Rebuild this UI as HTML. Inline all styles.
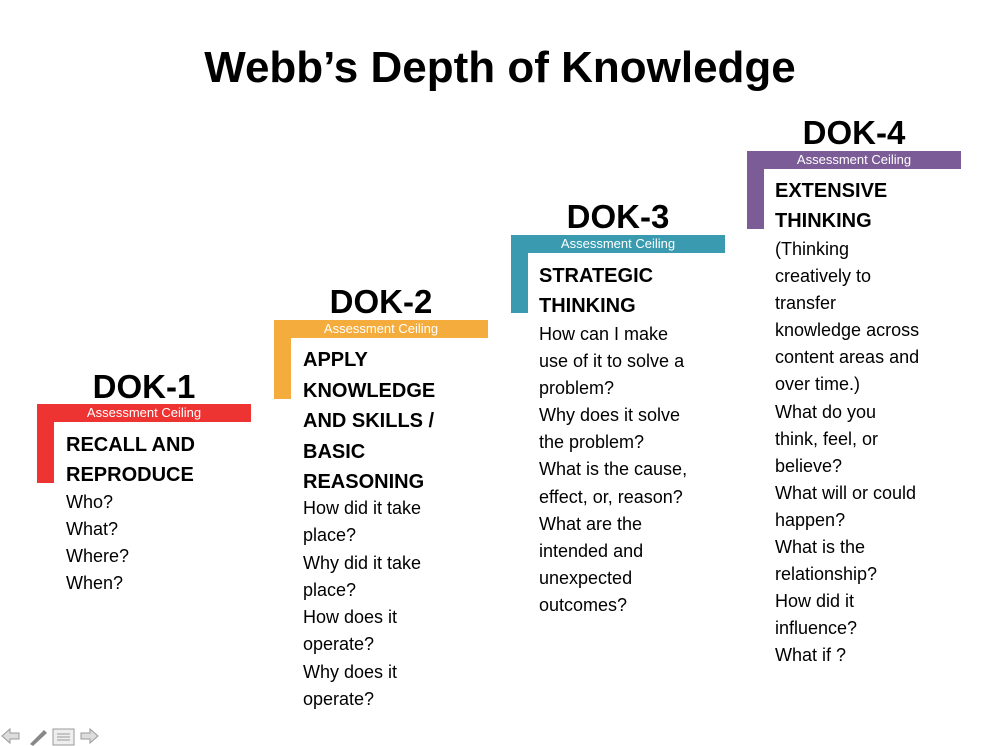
<!DOCTYPE html>
<html><head><meta charset="utf-8"><style>
body{margin:0;width:1000px;height:746px;background:#fff;position:relative;overflow:hidden;font-family:"Liberation Sans",sans-serif;color:#000}
div{position:absolute;white-space:nowrap}
.t{left:0;width:1000px;text-align:center;font-weight:bold;font-size:44px;top:42px;line-height:52px}
.dok{font-weight:bold;font-size:33px;line-height:36px;width:214px;text-align:center}
.bar{height:18px;width:214px}
.v{width:17px}
.ac{color:#fff;font-size:13px;line-height:18px;width:214px;text-align:center}
.h{font-weight:bold;font-size:20px;line-height:30px}
.b{font-size:18px;line-height:27px}
</style></head><body>
<div class="t">Webb’s Depth of Knowledge</div>

<!-- DOK-1 -->
<div class="dok" style="left:37px;top:369px">DOK-1</div>
<div class="bar" style="left:37px;top:404px;background:#ee3333"></div>
<div class="v" style="left:37px;top:404px;height:79px;background:#ee3333"></div>
<div class="ac" style="left:37px;top:404px">Assessment Ceiling</div>
<div class="h" style="left:66px;top:430px">RECALL AND<br>REPRODUCE</div>
<div class="b" style="left:66px;top:489px">Who?<br>What?<br>Where?<br>When?</div>

<!-- DOK-2 -->
<div class="dok" style="left:274px;top:284px">DOK-2</div>
<div class="bar" style="left:274px;top:320px;background:#f4ac3c"></div>
<div class="v" style="left:274px;top:320px;height:79px;background:#f4ac3c"></div>
<div class="ac" style="left:274px;top:320px">Assessment Ceiling</div>
<div class="h" style="left:303px;top:345px;line-height:30.5px">APPLY<br>KNOWLEDGE<br>AND SKILLS /<br>BASIC<br>REASONING</div>
<div class="b" style="left:303px;top:495px;line-height:27.3px">How did it take<br>place?<br>Why did it take<br>place?<br>How does it<br>operate?<br>Why does it<br>operate?</div>

<!-- DOK-3 -->
<div class="dok" style="left:511px;top:199px">DOK-3</div>
<div class="bar" style="left:511px;top:235px;background:#3a9bb0"></div>
<div class="v" style="left:511px;top:235px;height:78px;background:#3a9bb0"></div>
<div class="ac" style="left:511px;top:235px">Assessment Ceiling</div>
<div class="h" style="left:539px;top:261px">STRATEGIC<br>THINKING</div>
<div class="b" style="left:539px;top:321px;line-height:27.1px">How can I make<br>use of it to solve a<br>problem?<br>Why does it solve<br>the problem?<br>What is the cause,<br>effect, or, reason?<br>What are the<br>intended and<br>unexpected<br>outcomes?</div>

<!-- DOK-4 -->
<div class="dok" style="left:747px;top:115px">DOK-4</div>
<div class="bar" style="left:747px;top:151px;background:#7b5c96"></div>
<div class="v" style="left:747px;top:151px;height:78px;background:#7b5c96"></div>
<div class="ac" style="left:747px;top:151px">Assessment Ceiling</div>
<div class="h" style="left:775px;top:176px">EXTENSIVE<br>THINKING</div>
<div class="b" style="left:775px;top:236px;line-height:27.1px">(Thinking<br>creatively to<br>transfer<br>knowledge across<br>content areas and<br>over time.)<br>What do you<br>think, feel, or<br>believe?<br>What will or could<br>happen?<br>What is the<br>relationship?<br>How did it<br>influence?<br>What if ?</div>

<!-- nav icons -->
<svg style="position:absolute;left:0;top:726px" width="110" height="20">
<path d="M2 10 L10 3 V7 H19 V13 H10 V17 Z" fill="#ddd" stroke="#999"/>
<path d="M30 18 L44 4 L47 7 L33 20 Z" fill="#888"/>
<rect x="53" y="3" width="21" height="16" fill="#eee" stroke="#999"/>
<path d="M57 8H70M57 11H70M57 14H70" stroke="#999"/>
<path d="M98 10 L90 3 V7 H81 V13 H90 V17 Z" fill="#ddd" stroke="#999"/>
</svg>
</body></html>
